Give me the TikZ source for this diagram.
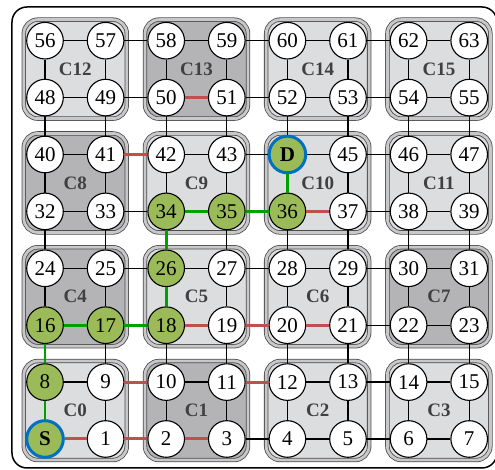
\documentclass[tikz,border=0pt]{standalone}
\usepackage{fontspec}
\setmainfont{Liberation Serif}
\usetikzlibrary{positioning}

\definecolor{clLight}{HTML}{DCDDDF}
\definecolor{clDark}{HTML}{B4B4B7}
\definecolor{clBand}{HTML}{C8C8CA}
\definecolor{peGreen}{HTML}{9BBB59}
\definecolor{peBlue}{HTML}{0070C0}
\definecolor{linkRed}{HTML}{C0504D}
\definecolor{routeGreen}{HTML}{00A000}

\begin{document}
\begin{tikzpicture}[
  x=0.5pt, y=0.5pt,
  pe/.style={draw, circle, line width=0.55pt, fill=white, minimum size=18.3pt,
             inner sep=0pt, font=\fontsize{10.5}{10.5}\selectfont},
  onroute/.style={fill=peGreen},
  endpe/.style={draw=peBlue, line width=1.5pt, fill=peGreen,
                font=\fontsize{10.5}{10.5}\selectfont\bfseries},
  clu/.style={draw=black!70, line width=0.4pt, double=clBand, double distance=1.4pt,
              rounded corners=7pt, minimum width=51.5pt, minimum height=49.5pt,
              inner sep=0pt, font=\fontsize{9.5}{9.5}\selectfont\bfseries, text=black!75},
  lt/.style={clu, fill=clLight},
  dk/.style={clu, fill=clDark},
  link/.style={line width=0.6pt},
  bad/.style={draw=linkRed, line width=1.5pt},
  route/.style={draw=routeGreen, line width=1.4pt},
  hop8/.style={onroute}, hop16/.style={onroute}, hop17/.style={onroute},
  hop18/.style={onroute}, hop26/.style={onroute}, hop34/.style={onroute},
  hop35/.style={onroute}, hop36/.style={onroute},
  hop0/.style={endpe}, hop44/.style={endpe}
]

% ---- Grid pitch (px) ----
\def\xo{45}     % first column
\def\yo{31}     % first row
\def\dx{60.6}   % column step
\def\dy{56.9}   % row step

\useasboundingbox (0,0) rectangle (495,470);

% ---- Outer frame ----
\draw[line width=0.75pt, rounded corners=7.5pt] (12,2) rectangle (497,463);

% ---- Clusters ----
\foreach \id/\tone in {0/lt,1/dk,2/lt,3/lt,4/dk,5/lt,6/lt,7/dk,
                       8/dk,9/lt,10/lt,11/lt,12/lt,13/dk,14/lt,15/lt}{
  \pgfmathtruncatemacro{\ci}{mod(\id,4)}
  \pgfmathtruncatemacro{\cj}{div(\id,4)}
  \node[\tone] (c\id) at ({\xo+(2*\ci+0.5)*\dx},{\yo+(2*\cj+0.5)*\dy}) {C\id};
}

% ---- Processing elements ----
\foreach \r in {0,...,7}{
  \foreach \c in {0,...,7}{
    \pgfmathtruncatemacro{\k}{8*\r+\c}
    \def\txt{\k}
    \ifnum\k=0 \def\txt{S}\fi
    \ifnum\k=44 \def\txt{D}\fi
    \node[pe, hop\k/.try] (n\k) at ({\xo+\c*\dx},{\yo+\r*\dy}) {\txt};
  }
}

% ---- Mesh links ----
\foreach \r in {0,...,7}{
  \foreach \c in {0,...,6}{
    \pgfmathtruncatemacro{\a}{8*\r+\c}
    \pgfmathtruncatemacro{\b}{\a+1}
    \draw[link] (n\a) -- (n\b);
  }
}
\foreach \r in {0,...,6}{
  \foreach \c in {0,...,7}{
    \pgfmathtruncatemacro{\a}{8*\r+\c}
    \pgfmathtruncatemacro{\b}{\a+8}
    \draw[link] (n\a) -- (n\b);
  }
}

% ---- Faulty links ----
\foreach \a/\b in {0/1,1/2,2/3,9/10,11/12,18/19,19/20,20/21,36/37,41/42,50/51}
  \draw[bad] (n\a) -- (n\b);

% ---- Route S -> D ----
\foreach \a/\b in {0/8,8/16,16/17,17/18,18/26,26/34,34/35,35/36,36/44}
  \draw[route] (n\a) -- (n\b);

\end{tikzpicture}
\end{document}
